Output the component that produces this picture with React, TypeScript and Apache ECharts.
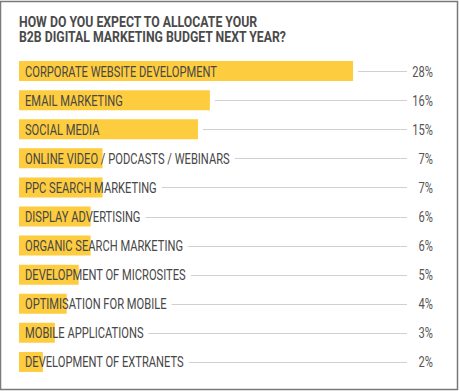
import React, { useEffect, useRef } from "react";
import * as echarts from "echarts";

const titleLines = ["HOW DO YOU EXPECT TO ALLOCATE YOUR", "B2B DIGITAL MARKETING BUDGET NEXT YEAR?"];
const categories = [
  "CORPORATE WEBSITE DEVELOPMENT",
  "EMAIL MARKETING",
  "SOCIAL MEDIA",
  "ONLINE VIDEO / PODCASTS / WEBINARS",
  "PPC SEARCH MARKETING",
  "DISPLAY ADVERTISING",
  "ORGANIC SEARCH MARKETING",
  "DEVELOPMENT OF MICROSITES",
  "OPTIMISATION FOR MOBILE",
  "MOBILE APPLICATIONS",
  "DEVELOPMENT OF EXTRANETS",
];
const values = [28, 16, 15, 7, 7, 6, 6, 5, 4, 3, 2];

const FONT = "Roboto, sans-serif";
const LABEL_SIZE = 14.5;
const TITLE_SIZE = 14;

let ctx: CanvasRenderingContext2D | null = null;
function measure(text: string, size: number, bold = false): number {
  if (!ctx) ctx = document.createElement("canvas").getContext("2d");
  if (!ctx) return text.length * 7;
  ctx.font = `${bold ? "bold " : ""}${size}px ${FONT}`;
  return ctx.measureText(text).width;
}

export default function App() {
  const ref = useRef<HTMLDivElement>(null);
  useEffect(() => {
    if (!ref.current) return;
    const labelScale = 192 / measure(categories[0], LABEL_SIZE);
    const titleScale = 239 / measure(titleLines[0], TITLE_SIZE, true);
    const chart = echarts.init(ref.current, null, { renderer: "svg" });
    chart.setOption({
      animation: false,
      backgroundColor: "#fff",
      graphic: [
        {
          type: "rect",
          shape: { x: 0.5, y: 1.5, width: 457, height: 388 },
          style: { fill: "none", stroke: "#7a7a7a", lineWidth: 1.5 },
          silent: true,
        },
        ...titleLines.map((t, k) => ({
          type: "text",
          x: 19,
          y: 22.5 + k * 15.2,
          scaleX: titleScale,
          silent: true,
          style: {
            text: t,
            fill: "#4a4a4a",
            fontFamily: FONT,
            fontWeight: "bold",
            fontSize: TITLE_SIZE,
            verticalAlign: "middle",
            align: "left",
          },
        })),
      ],
      grid: { left: 19, top: 56.5, width: 417.6, height: 320 },
      xAxis: { type: "value", min: 0, max: 35, show: false },
      yAxis: {
        type: "category",
        data: categories,
        inverse: true,
        show: false,
      },
      series: [
        {
          type: "bar",
          data: values,
          barWidth: 20,
          z: 1,
          itemStyle: { color: "#FECC3F" },
          silent: true,
        },
        {
          type: "custom",
          data: values.map((v, i) => [v, i]),
          encode: { x: 0, y: 1 },
          z: 5,
          silent: true,
          renderItem: (params: any, api: any) => {
            const v = api.value(0);
            const i = api.value(1);
            const end = api.coord([v, i]);
            const start = api.coord([0, i]);
            const name = categories[i];
            const tx = start[0] + 6;
            const tw = measure(name, LABEL_SIZE) * labelScale;
            const lineStart = Math.max(end[0], tx + tw) + 5;
            const cy = Math.round(end[1]) + 0.5;
            return {
              type: "group",
              children: [
                {
                  type: "text",
                  x: tx,
                  y: end[1] + 0.5,
                  scaleX: labelScale,
                  style: {
                    text: name,
                    fill: "#474747",
                    fontFamily: FONT,
                    fontSize: LABEL_SIZE,
                    verticalAlign: "middle",
                    align: "left",
                  },
                },
                {
                  type: "line",
                  shape: { x1: lineStart, y1: cy, x2: 407, y2: cy },
                  style: { stroke: "#d0d0d0", lineWidth: 1 },
                },
                {
                  type: "text",
                  x: 433,
                  y: end[1] + 0.5,
                  scaleX: labelScale,
                  style: {
                    text: `${v}%`,
                    fill: "#555",
                    fontFamily: FONT,
                    fontSize: LABEL_SIZE,
                    verticalAlign: "middle",
                    align: "right",
                  },
                },
              ],
            };
          },
        },
      ],
    });
    return () => chart.dispose();
  }, []);
  return (
    <div
      ref={ref}
      style={{ position: "fixed", left: 0, top: 0, width: 460, height: 391 }}
    />
  );
}
